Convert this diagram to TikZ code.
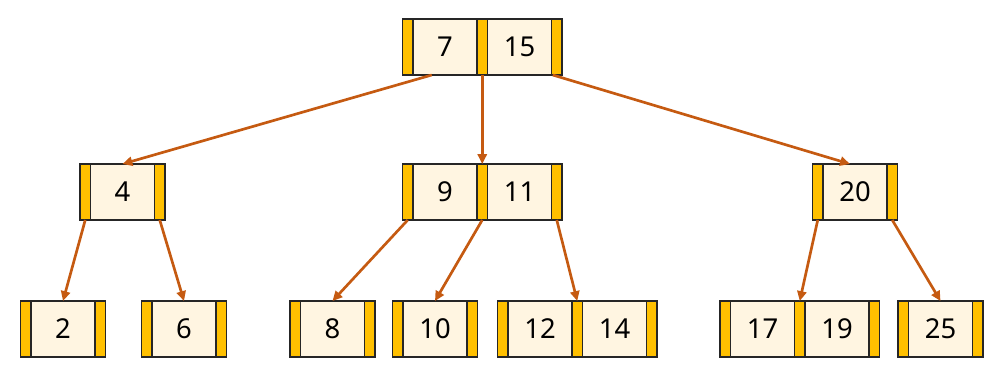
\documentclass[tikz,border=0pt]{standalone}
\usepackage{fontspec}
\setmainfont{Noto Sans}
\usetikzlibrary{positioning, arrows.meta}
\definecolor{ptrgold}{HTML}{FFC000}
\definecolor{keycream}{HTML}{FFF5E1}
\definecolor{linkorange}{HTML}{C55A11}

\begin{document}
\begin{tikzpicture}[node distance=0pt,
      cell/.style={draw=black!85, line width=1pt, minimum height=1.4cm,
        inner sep=0pt, outer sep=0pt,
        font=\fontsize{19.5}{21}\selectfont},
      ptr/.style={cell, fill=ptrgold, minimum width=0.2625cm},
      key/.style={cell, fill=keycream, minimum width=1.6cm},
      link/.style={-{Triangle[length=7pt, width=6.5pt]}, draw=linkorange,
        line width=1.9pt}]
    \useasboundingbox (0,0) rectangle (25.1,-9.475);

    % root
    \node[ptr, anchor=north west] (root-p0) at (10.0625,-0.475) {};
    \node[key] (root-k1) [right=of root-p0] {7};
    \node[ptr] (root-p1) [right=of root-k1] {};
    \node[key] (root-k2) [right=of root-p1] {15};
    \node[ptr] (root-p2) [right=of root-k2] {};

    % second level
    \node[ptr, anchor=north west] (n4-p0) at (2.0,-4.1) {};
    \node[key] (n4-k1) [right=of n4-p0] {4};
    \node[ptr] (n4-p1) [right=of n4-k1] {};

    \node[ptr, anchor=north west] (n9-p0) at (10.0625,-4.1) {};
    \node[key] (n9-k1) [right=of n9-p0] {9};
    \node[ptr] (n9-p1) [right=of n9-k1] {};
    \node[key] (n9-k2) [right=of n9-p1] {11};
    \node[ptr] (n9-p2) [right=of n9-k2] {};

    \node[ptr, anchor=north west] (n20-p0) at (20.3125,-4.1) {};
    \node[key] (n20-k1) [right=of n20-p0] {20};
    \node[ptr] (n20-p1) [right=of n20-k1] {};

    % leaves
    \node[ptr, anchor=north west] (l2-p0) at (0.5125,-7.525) {};
    \node[key] (l2-k1) [right=of l2-p0] {2};
    \node[ptr] (l2-p1) [right=of l2-k1] {};

    \node[ptr, anchor=north west] (l6-p0) at (3.5375,-7.525) {};
    \node[key] (l6-k1) [right=of l6-p0] {6};
    \node[ptr] (l6-p1) [right=of l6-k1] {};

    \node[ptr, anchor=north west] (l8-p0) at (7.25,-7.525) {};
    \node[key] (l8-k1) [right=of l8-p0] {8};
    \node[ptr] (l8-p1) [right=of l8-k1] {};

    \node[ptr, anchor=north west] (l10-p0) at (9.8125,-7.525) {};
    \node[key] (l10-k1) [right=of l10-p0] {10};
    \node[ptr] (l10-p1) [right=of l10-k1] {};

    \node[ptr, anchor=north west] (l12-p0) at (12.4375,-7.525) {};
    \node[key] (l12-k1) [right=of l12-p0] {12};
    \node[ptr] (l12-p1) [right=of l12-k1] {};
    \node[key] (l12-k2) [right=of l12-p1] {14};
    \node[ptr] (l12-p2) [right=of l12-k2] {};

    \node[ptr, anchor=north west] (l17-p0) at (18.0,-7.525) {};
    \node[key] (l17-k1) [right=of l17-p0] {17};
    \node[ptr] (l17-p1) [right=of l17-k1] {};
    \node[key] (l17-k2) [right=of l17-p1] {19};
    \node[ptr] (l17-p2) [right=of l17-k2] {};

    \node[ptr, anchor=north west] (l25-p0) at (22.45,-7.525) {};
    \node[key] (l25-k1) [right=of l25-p0] {25};
    \node[ptr] (l25-p1) [right=of l25-k1] {};

    % child links
    \draw[link] ([xshift=0.6cm]root-p0.south) -- (n4-k1.north);
    \draw[link] (root-p1.south) -- (n9-p1.north);
    \draw[link] ([xshift=-0.1cm]root-p2.south) -- ([xshift=-0.125cm]n20-k1.north);

    \draw[link] (n4-p0.south) -- (l2-k1.north);
    \draw[link] (n4-p1.south) -- (l6-k1.north);

    \draw[link] (n9-p0.south) -- (l8-k1.north);
    \draw[link] (n9-p1.south) -- (l10-k1.north);
    \draw[link] (n9-p2.south) -- (l12-p1.north);

    \draw[link] (n20-p0.south) -- (l17-p1.north);
    \draw[link] (n20-p1.south) -- (l25-k1.north);
  \end{tikzpicture}
\end{document}
